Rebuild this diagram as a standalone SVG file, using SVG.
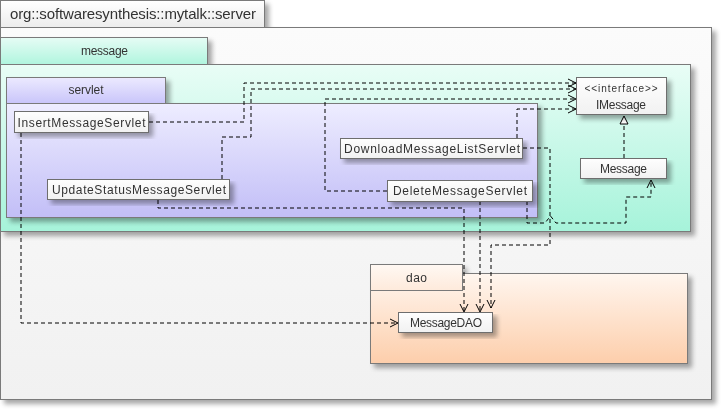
<svg xmlns="http://www.w3.org/2000/svg" width="728" height="416" viewBox="0 0 728 416">
<style>
.pk{stroke:#7a7a7a;stroke-width:1}
.cls{fill:url(#gCls);stroke:#6e6e6e;stroke-width:1}
.t{font-family:"Liberation Sans",Arial,sans-serif;font-size:12px;fill:#333;text-anchor:middle}
.c{fill:none;stroke:#000;stroke-width:1;stroke-dasharray:4,3}
.ah{fill:none;stroke:#000;stroke-width:1}
</style>
<defs>
<linearGradient id="gOuter" x1="0" y1="0" x2="0" y2="1"><stop offset="0" stop-color="#fbfbfb"/><stop offset="1" stop-color="#f1f1f1"/></linearGradient>
<linearGradient id="gOuterTab" x1="0" y1="0" x2="0" y2="1"><stop offset="0" stop-color="#ffffff"/><stop offset="1" stop-color="#ececec"/></linearGradient>
<linearGradient id="gMsg" x1="0" y1="0" x2="0" y2="1"><stop offset="0" stop-color="#e9fdf6"/><stop offset="1" stop-color="#a6f3da"/></linearGradient>
<linearGradient id="gMsgTab" x1="0" y1="0" x2="0" y2="1"><stop offset="0" stop-color="#e6fcf5"/><stop offset="1" stop-color="#b0f5de"/></linearGradient>
<linearGradient id="gSrv" x1="0" y1="0" x2="0" y2="1"><stop offset="0" stop-color="#eeedff"/><stop offset="1" stop-color="#c2bef7"/></linearGradient>
<linearGradient id="gSrvTab" x1="0" y1="0" x2="0" y2="1"><stop offset="0" stop-color="#eceaff"/><stop offset="1" stop-color="#c9c5fa"/></linearGradient>
<linearGradient id="gDao" x1="0" y1="0" x2="0" y2="1"><stop offset="0" stop-color="#fff6ef"/><stop offset="1" stop-color="#fdceab"/></linearGradient>
<linearGradient id="gDaoTab" x1="0" y1="0" x2="0" y2="1"><stop offset="0" stop-color="#fff8f3"/><stop offset="1" stop-color="#feeadb"/></linearGradient>
<linearGradient id="gCls" x1="0" y1="0" x2="0" y2="1"><stop offset="0" stop-color="#fefefe"/><stop offset="1" stop-color="#f1f1f1"/></linearGradient>
<filter id="sh" x="-10%" y="-10%" width="130%" height="140%">
<feGaussianBlur in="SourceAlpha" stdDeviation="2.5"/>
<feOffset dx="4" dy="4" result="b"/>
<feComponentTransfer><feFuncA type="linear" slope="0.35"/></feComponentTransfer>
<feMerge><feMergeNode/><feMergeNode in="SourceGraphic"/></feMerge>
</filter>
<marker id="arr" viewBox="0 0 10 10" refX="9" refY="5" markerWidth="10" markerHeight="10" markerUnits="userSpaceOnUse" orient="auto">
<path d="M1,1 L9,5 L1,9" fill="none" stroke="#000" stroke-width="1"/>
</marker>
<marker id="tri" viewBox="0 0 10 10" refX="9" refY="5" markerWidth="10" markerHeight="10" markerUnits="userSpaceOnUse" orient="auto">
<path d="M1,1 L9,5 L1,9 Z" fill="#fff" stroke="#000" stroke-width="1"/>
</marker>
</defs>

<g id="pkg-server" filter="url(#sh)">
<rect class="pk" x="0.5" y="27.5" width="711" height="372" fill="url(#gOuter)"/>
<rect class="pk" x="0.5" y="0.5" width="264" height="27" fill="url(#gOuterTab)"/>
<text class="t" x="133" y="19" style="font-size:15px" textLength="246" lengthAdjust="spacing">org::softwaresynthesis::mytalk::server</text>
</g>

<g id="pkg-message" filter="url(#sh)">
<rect class="pk" x="0.5" y="64.5" width="690" height="167" fill="url(#gMsg)"/>
<rect class="pk" x="0.5" y="37.5" width="207" height="27" fill="url(#gMsgTab)"/>
<text class="t" x="104.5" y="55" textLength="47" lengthAdjust="spacing">message</text>
</g>

<g id="pkg-servlet" filter="url(#sh)">
<rect class="pk" x="6.5" y="103.5" width="531" height="114" fill="url(#gSrv)"/>
<rect class="pk" x="6.5" y="77.5" width="159" height="26" fill="url(#gSrvTab)"/>
<text class="t" x="86" y="94" textLength="35" lengthAdjust="spacing">servlet</text>
</g>

<g id="pkg-dao" filter="url(#sh)">
<rect class="pk" x="370.5" y="273.5" width="317" height="90" fill="url(#gDao)"/>
<rect class="pk" x="370.5" y="264.5" width="92" height="26" fill="url(#gDaoTab)"/>
<text class="t" x="416.5" y="282" textLength="21" lengthAdjust="spacing">dao</text>
</g>

<g id="connectors">
<path class="c" d="M149,122 H244 V83 H576" marker-end="url(#arr)"/>
<path class="c" d="M222,179 V137 H251 V89 H576" marker-end="url(#arr)"/>
<path class="c" d="M387,191 H325 V99 H576" marker-end="url(#arr)"/>
<path class="c" d="M517,138 V109 H576" marker-end="url(#arr)"/>
<path class="c" d="M21,133 V323 H398" marker-end="url(#arr)"/>
<path class="c" d="M158,200 V208 H464 V312" marker-end="url(#arr)"/>
<path class="c" d="M480,201 V312" marker-end="url(#arr)"/>
<path class="c" d="M523,148 H550 V245 H491 V308" marker-end="url(#arr)"/>
<path class="c" d="M527,201 V223 H545 L550.5,216 L556,223 H626 V197 H651 V180" marker-end="url(#arr)"/>
<path class="c" d="M624,158 V116" marker-end="url(#tri)"/>
</g>

<g id="InsertMessageServlet" filter="url(#sh)">
<rect class="cls" x="14.5" y="111.5" width="134" height="21"/>
<text class="t" x="81.5" y="126.5" textLength="128" lengthAdjust="spacing">InsertMessageServlet</text>
</g>
<g id="UpdateStatusMessageServlet" filter="url(#sh)">
<rect class="cls" x="47.5" y="179.5" width="182" height="20"/>
<text class="t" x="139" y="194" textLength="174" lengthAdjust="spacing">UpdateStatusMessageServlet</text>
</g>
<g id="DownloadMessageListServlet" filter="url(#sh)">
<rect class="cls" x="340.5" y="138.5" width="182" height="20"/>
<text class="t" x="432" y="153" textLength="176" lengthAdjust="spacing">DownloadMessageListServlet</text>
</g>
<g id="DeleteMessageServlet" filter="url(#sh)">
<rect class="cls" x="387.5" y="180.5" width="145" height="21"/>
<text class="t" x="460" y="195" textLength="134" lengthAdjust="spacing">DeleteMessageServlet</text>
</g>
<g id="IMessage" filter="url(#sh)">
<rect class="cls" x="576.5" y="77.5" width="90" height="37"/>
<text class="t" x="621" y="92" style="font-size:10px" textLength="73" lengthAdjust="spacing">&lt;&lt;interface&gt;&gt;</text>
<text class="t" x="621" y="108.5" textLength="50" lengthAdjust="spacing">IMessage</text>
</g>
<g id="Message" filter="url(#sh)">
<rect class="cls" x="580.5" y="158.5" width="86" height="20"/>
<text class="t" x="623.5" y="173" textLength="47" lengthAdjust="spacing">Message</text>
</g>
<g id="MessageDAO" filter="url(#sh)">
<rect class="cls" x="398.5" y="312.5" width="94" height="20"/>
<text class="t" x="446" y="327" textLength="72" lengthAdjust="spacing">MessageDAO</text>
</g>
</svg>
